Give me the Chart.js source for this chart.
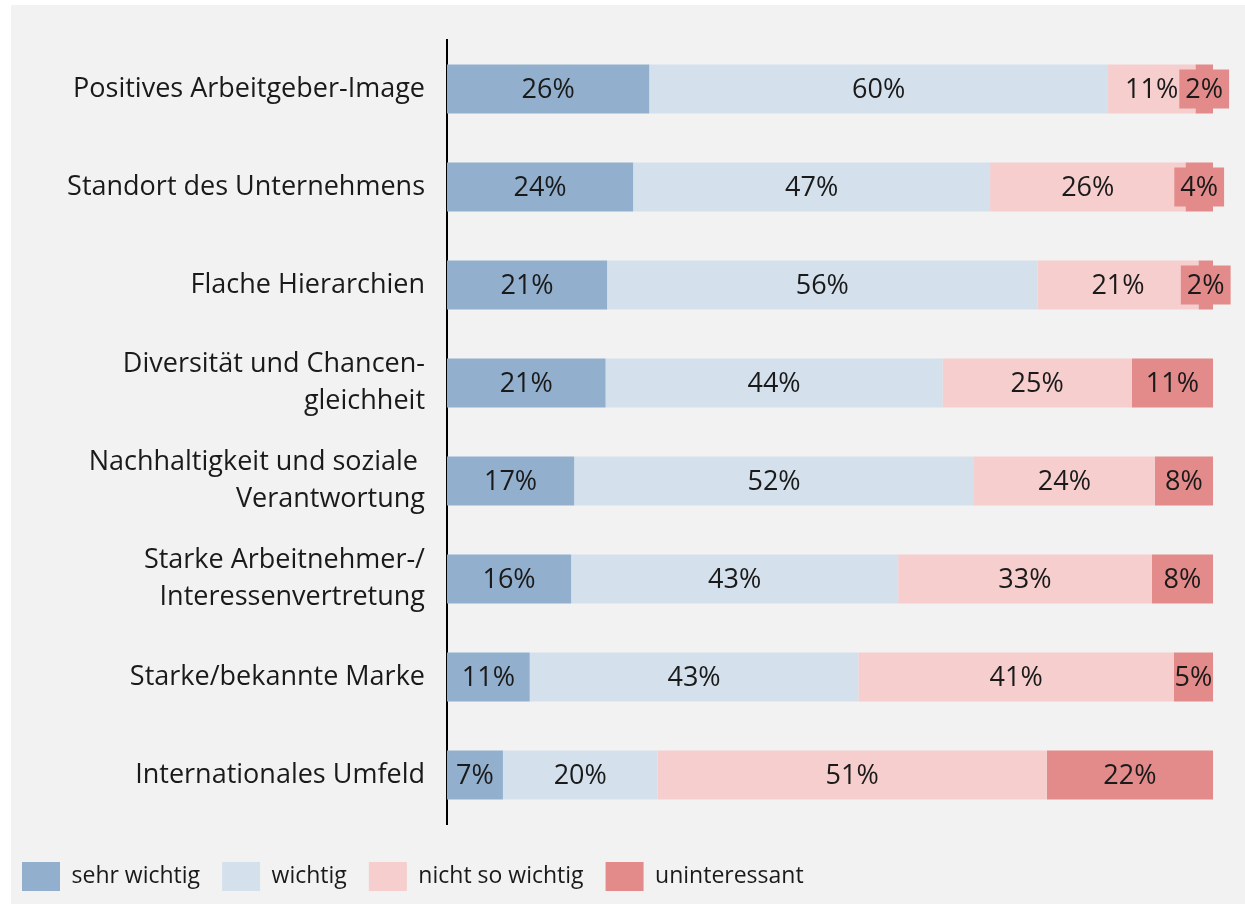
<!DOCTYPE html>
<html>
<head>
<meta charset="utf-8">
<script src="https://cdn.jsdelivr.net/npm/chart.js@4.4.1/dist/chart.umd.min.js"></script>
<style>
  html, body { margin: 0; padding: 0; background: #fff; }
  #bg { position: absolute; left: 11px; top: 5px; width: 1234px; height: 899px; background: #f2f2f2; }
  #chart { position: absolute; left: 0; top: 5px; }
</style>
</head>
<body>
<div id="bg"></div>
<canvas id="chart" width="1245" height="899"></canvas>
<script>
var categories = [
  'Positives Arbeitgeber-Image',
  'Standort des Unternehmens',
  'Flache Hierarchien',
  ['Diversität und Chancen-', 'gleichheit'],
  ['Nachhaltigkeit und soziale ', 'Verantwortung'],
  ['Starke Arbeitnehmer-/', 'Interessenvertretung'],
  'Starke/bekannte Marke',
  'Internationales Umfeld'
];
var seriesNames = ['sehr wichtig', 'wichtig', 'nicht so wichtig', 'uninteressant'];
var sehrWichtig = [26.4, 24.3, 20.9, 20.7, 16.6, 16.2, 10.8, 7.3];
var wichtig = [59.9, 46.6, 56.2, 44.0, 52.2, 42.7, 42.9, 20.2];
var nichtSoWichtig = [11.4, 25.5, 21.0, 24.7, 23.6, 33.1, 41.2, 50.8];
var uninteressant = [2.3, 3.6, 1.9, 10.6, 7.6, 8.0, 5.1, 21.7];
var colors = ['#92b0ce', '#d4e0ec', '#f6cece', '#e38a8a'];

var FONT = '"Open Sans", "Noto Sans", sans-serif';

// percent labels in the middle of each segment; small ones get a box in the segment colour
var barLabels = {
  id: 'barLabels',
  afterDatasetsDraw: function (chart) {
    var ctx = chart.ctx;
    ctx.save();
    ctx.font = '27px ' + FONT;
    ctx.textAlign = 'center';
    ctx.textBaseline = 'middle';
    chart.data.datasets.forEach(function (ds, i) {
      var meta = chart.getDatasetMeta(i);
      meta.data.forEach(function (bar, j) {
        var txt = Math.round(ds.data[j]) + '%';
        var left = Math.min(bar.x, bar.base), right = Math.max(bar.x, bar.base);
        var cx = (left + right) / 2;
        var w = ctx.measureText(txt).width;
        if (w > right - left + 4) {
          ctx.fillStyle = ds.backgroundColor;
          ctx.fillRect(cx - w / 2 - 6, bar.y - 19.5, w + 12, 39);
        }
        ctx.fillStyle = '#1a1a1a';
        ctx.fillText(txt, cx, bar.y + 1);
      });
    });
    ctx.restore();
  }
};

new Chart(document.getElementById('chart').getContext('2d'), {
  type: 'bar',
  data: {
    labels: categories,
    datasets: [
      { label: seriesNames[0], data: sehrWichtig, backgroundColor: colors[0] },
      { label: seriesNames[1], data: wichtig, backgroundColor: colors[1] },
      { label: seriesNames[2], data: nichtSoWichtig, backgroundColor: colors[2] },
      { label: seriesNames[3], data: uninteressant, backgroundColor: colors[3] }
    ]
  },
  options: {
    indexAxis: 'y',
    responsive: false,
    animation: false,
    barPercentage: 0.5,
    categoryPercentage: 1,
    layout: { padding: { top: 35, right: 32, bottom: 3, left: 0 } },
    scales: {
      x: {
        stacked: true,
        min: 0,
        max: 100,
        grid: { display: false, drawTicks: false },
        border: { display: false },
        ticks: { display: false },
        afterFit: function (s) { s.height = 16; }
      },
      y: {
        stacked: true,
        grid: { display: false, drawTicks: false },
        border: { display: true, color: '#000', width: 2 },
        ticks: {
          color: '#1a1a1a',
          padding: 22,
          font: { family: FONT, size: 27, lineHeight: 1.38 }
        },
        afterFit: function (s) {
          s.width = 447;
          s.paddingTop = 0;
          s.paddingBottom = 0;
        }
      }
    },
    plugins: {
      tooltip: { enabled: false },
      legend: {
        position: 'bottom',
        align: 'start',
        labels: {
          boxWidth: 38,
          boxHeight: 29,
          padding: 22,
          color: '#1a1a1a',
          font: { family: FONT, size: 23 }
        }
      }
    }
  },
  plugins: [barLabels]
});
</script>
</body>
</html>
